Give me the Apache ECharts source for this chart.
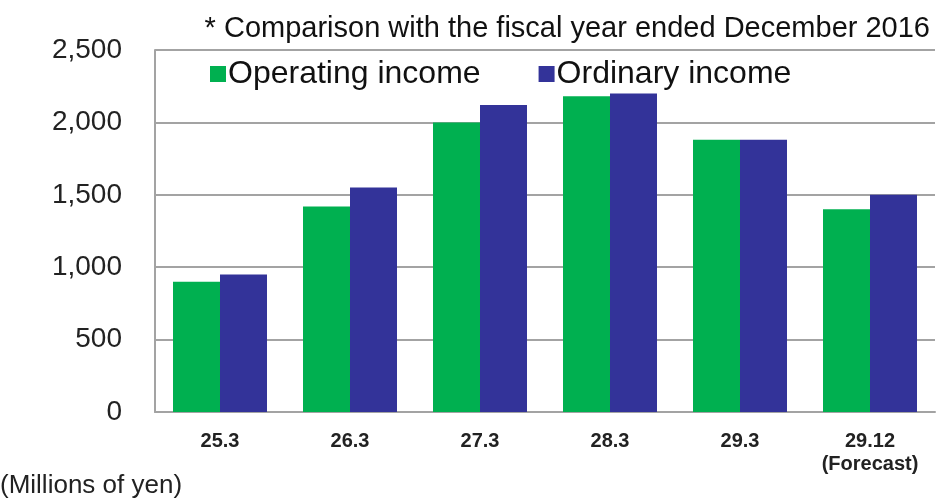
<!DOCTYPE html>
<html>
<head>
<meta charset="utf-8">
<script src="https://cdn.jsdelivr.net/npm/echarts@6/dist/echarts.min.js"></script>
<style>
  html, body { margin: 0; padding: 0; background: #fff; }
  #chart { width: 936px; height: 499px; }
</style>
</head>
<body>
<div id="chart"></div>
<script>
// Fiscal periods (Heisei year.month)
const categories = ['25.3', '26.3', '27.3', '28.3', '29.3', '29.12\n(Forecast)'];
// Millions of yen
const operatingIncome = [900, 1420, 2000, 2180, 1880, 1400];
const ordinaryIncome = [950, 1550, 2120, 2200, 1880, 1500];
const yTicks = [0, 500, 1000, 1500, 2000, 2500];

const FONT = '"Liberation Sans", Arial, sans-serif';
const GRID_GRAY = '#a3a3a3';

const chart = echarts.init(document.getElementById('chart'), null, { renderer: 'canvas' });

chart.setOption({
  animation: false,
  backgroundColor: '#fff',
  textStyle: { fontFamily: FONT },
  title: {
    text: '* Comparison with the fiscal year ended December 2016',
    right: 1,
    top: 9,
    textStyle: { fontFamily: FONT, fontSize: 29, fontWeight: 'normal', color: '#111' }
  },
  legend: {
    left: 205,
    top: 53,
    itemWidth: 16,
    itemHeight: 16,
    itemGap: 58,
    icon: 'rect',
    textStyle: { fontFamily: FONT, fontSize: 32, color: '#111', padding: [0, 0, 0, -3] },
    data: ['Operating income', 'Ordinary income']
  },
  grid: { left: 155, right: 1, top: 50, bottom: 87, containLabel: false },
  xAxis: {
    type: 'category',
    data: categories,
    axisLine: { lineStyle: { color: GRID_GRAY, width: 2 } },
    axisTick: { show: false },
    axisLabel: {
      fontFamily: FONT, fontSize: 20, fontWeight: 'bold', color: '#222',
      margin: 18, lineHeight: 23
    }
  },
  yAxis: {
    type: 'value',
    min: yTicks[0],
    max: yTicks[yTicks.length - 1],
    interval: 500,
    axisLine: { show: true, lineStyle: { color: GRID_GRAY, width: 2 } },
    axisTick: { show: false },
    splitLine: { lineStyle: { color: GRID_GRAY, width: 2 } },
    axisLabel: {
      fontFamily: FONT, fontSize: 28, color: '#222', margin: 33,
      formatter: v => v.toLocaleString('en-US')
    }
  },
  series: [
    {
      name: 'Operating income',
      type: 'bar',
      data: operatingIncome,
      itemStyle: { color: '#00b050' },
      barWidth: 47,
      barGap: '0%'
    },
    {
      name: 'Ordinary income',
      type: 'bar',
      data: ordinaryIncome,
      itemStyle: { color: '#333399' },
      barWidth: 47,
      barGap: '0%'
    }
  ],
  graphic: [
    {
      type: 'text',
      left: 0,
      top: 473,
      style: { text: '(Millions of yen)', font: '26px ' + FONT, fill: '#222' }
    }
  ]
});
</script>
</body>
</html>
